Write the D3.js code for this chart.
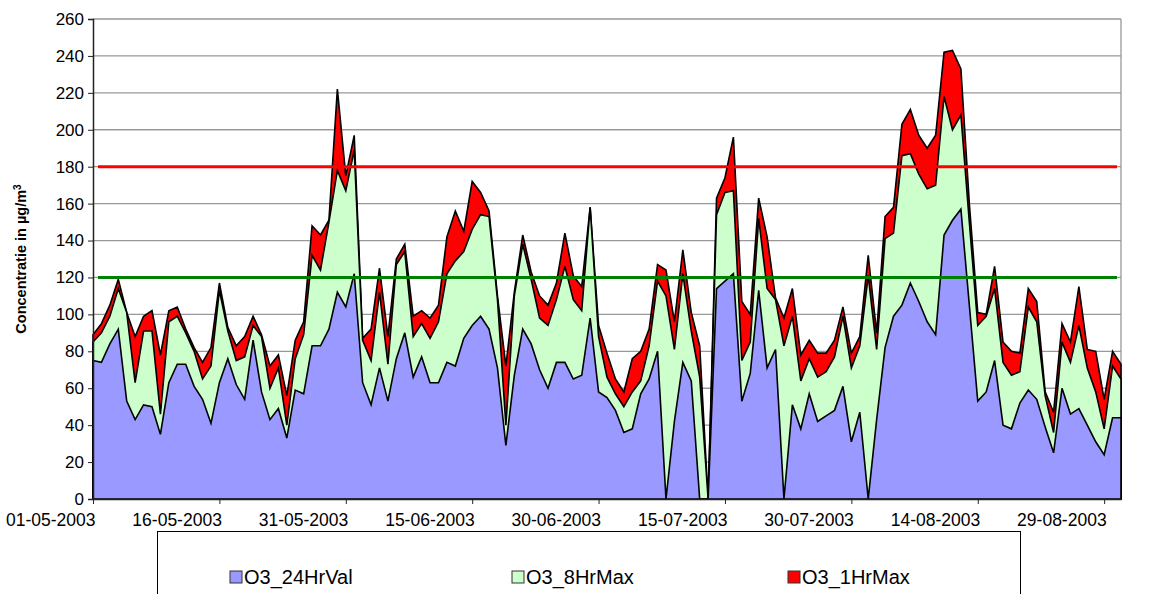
<!DOCTYPE html>
<html>
  <head>
    <meta http-equiv="Content-Type" content="text/html; charset=UTF-8">
    <script type="text/javascript" src="https://cdn.jsdelivr.net/npm/d3@7"></script>
    <style>
      body { margin: 0; background: #fff; }
      #chart { width: 1157px; height: 594px; overflow: hidden; }
    </style>
  </head>
  <body>
    <div id="chart"></div>
    <script>
// first day of the series, one value per day
var startDate = "01-05-2003";

var tickLabels = ["01-05-2003", "16-05-2003", "31-05-2003", "15-06-2003", "30-06-2003",
                  "15-07-2003", "30-07-2003", "14-08-2003", "29-08-2003"];

var yTicks = [0, 20, 40, 60, 80, 100, 120, 140, 160, 180, 200, 220, 240, 260];

var O3_24HrVal = [75, 74, 84, 92, 53, 43, 51, 50, 35, 63,
                  73, 73, 61, 54, 41, 63, 76, 62, 54, 86,
                  58, 43, 49, 33, 59, 57, 83, 83, 92, 112,
                  104, 122, 63, 51, 71, 53, 76, 90, 66, 77,
                  63, 63, 74, 72, 87, 94, 99, 92, 71, 29,
                  67, 92, 84, 70, 60, 74, 74, 65, 67, 98,
                  58, 55, 48, 36, 38, 57, 65, 80, 0, 42,
                  74, 64, 0, 0, 114, 118, 122, 53, 68, 113,
                  71, 81, 0, 51, 38, 57, 42, 45, 48, 61,
                  31, 47, 0, 43, 82, 99, 105, 117, 107, 96,
                  89, 143, 151, 157, 105, 53, 58, 75, 40, 38,
                  52, 59, 54, 39, 25, 60, 46, 49, 40, 31,
                  24, 44, 44];

var O3_8HrMax = [85, 90, 99, 114, 101, 63, 91, 91, 46, 96,
                 99, 90, 80, 65, 72, 113, 91, 75, 77, 94,
                 88, 60, 71, 40, 76, 89, 132, 124, 150, 178,
                 167, 189, 86, 75, 112, 73, 127, 134, 88, 95,
                 87, 96, 122, 129, 134, 146, 154, 153, 108, 40,
                 110, 138, 119, 98, 94, 108, 126, 108, 102, 158,
                 88, 66, 57, 50, 58, 64, 83, 118, 110, 81,
                 122, 91, 66, 0, 154, 166, 167, 75, 85, 152,
                 114, 108, 83, 99, 64, 76, 66, 69, 77, 99,
                 71, 83, 121, 81, 141, 144, 186, 187, 176, 168,
                 170, 218, 200, 208, 150, 94, 99, 114, 74, 67,
                 69, 104, 96, 56, 36, 85, 74, 94, 71, 58,
                 38, 72, 65];

var O3_1HrMax = [89, 95, 105, 119, 101, 88, 99, 102, 78, 102,
                 104, 92, 82, 74, 82, 117, 93, 83, 88, 99,
                 89, 72, 78, 56, 86, 96, 148, 143, 151, 222,
                 175, 197, 87, 92, 125, 88, 130, 138, 99, 102,
                 98, 105, 142, 156, 145, 172, 166, 156, 110, 72,
                 112, 143, 123, 110, 105, 117, 144, 121, 115, 158,
                 94, 79, 65, 58, 76, 80, 92, 127, 124, 96,
                 135, 101, 83, 0, 163, 174, 196, 107, 100, 163,
                 142, 109, 98, 114, 78, 86, 79, 79, 86, 104,
                 79, 88, 132, 90, 153, 158, 203, 211, 197, 190,
                 197, 242, 243, 233, 160, 101, 100, 126, 85, 80,
                 79, 114, 107, 58, 47, 95, 85, 115, 81, 80,
                 54, 80, 73];

// limit values drawn as flat lines
var limits = [{value: 180, color: "#ff0000"}, {value: 120, color: "#008000"}];

var seriesNames = ["O3_24HrVal", "O3_8HrMax", "O3_1HrMax"];
var seriesColors = ["#9999ff", "#ccffcc", "#ff0000"];

var width = 1157, height = 594;
var margin = {top: 19, left: 93, right: 36, bottom: 95};
var w = width - margin.left - margin.right;
var h = height - margin.top - margin.bottom;

var parse = d3.timeParse("%d-%m-%Y");
var first = parse(startDate);
var dates = O3_24HrVal.map(function (d, i) { return d3.timeDay.offset(first, i); });

var x = d3.scaleTime()
    .domain([dates[0], dates[dates.length - 1]])
    .range([margin.left, margin.left + w]);
var y = d3.scaleLinear()
    .domain([0, 260])
    .range([margin.top + h, margin.top]);

var svg = d3.select("#chart").append("svg")
    .attr("width", width)
    .attr("height", height)
    .style("font-family", "Arial, 'Liberation Sans', sans-serif");

// grid lines
svg.append("g").selectAll("line")
    .data(yTicks.slice(1))
  .enter().append("line")
    .attr("x1", margin.left)
    .attr("x2", margin.left + w)
    .attr("y1", function (d) { return y(d); })
    .attr("y2", function (d) { return y(d); })
    .attr("stroke", "#999")
    .attr("stroke-width", 1.3);

svg.append("line")
    .attr("x1", margin.left + w).attr("x2", margin.left + w)
    .attr("y1", margin.top).attr("y2", margin.top + h)
    .attr("stroke", "#999")
    .attr("stroke-width", 1.3);

// areas, largest first so the smaller ones sit on top
var areaOf = function (values) {
  return d3.area()
    .x(function (d, i) { return x(dates[i]); })
    .y0(y(0))
    .y1(function (d) { return y(d); })(values);
};

[O3_1HrMax, O3_8HrMax, O3_24HrVal].forEach(function (values, k) {
  svg.append("path")
    .attr("d", areaOf(values))
    .attr("fill", seriesColors[2 - k])
    .attr("stroke", "#000")
    .attr("stroke-width", 1.6)
    .attr("stroke-linejoin", "miter");
});

// limit lines
svg.append("g").selectAll("line")
    .data(limits)
  .enter().append("line")
    .attr("x1", margin.left + 5)
    .attr("x2", margin.left + w - 4)
    .attr("y1", function (d) { return y(d.value); })
    .attr("y2", function (d) { return y(d.value); })
    .attr("stroke", function (d) { return d.color; })
    .attr("stroke-width", 3);

// y axis
var yAxis = svg.append("g")
    .attr("transform", "translate(" + margin.left + ",0)")
    .call(d3.axisLeft(y).tickValues(yTicks).tickSize(5).tickPadding(4));
yAxis.select(".domain").attr("stroke", "#222").attr("stroke-width", 1.5);
yAxis.selectAll(".tick line").attr("stroke", "#222");
yAxis.selectAll("text").attr("font-size", "17px").attr("fill", "#000").attr("font-family", "Arial, 'Liberation Sans', sans-serif");

// x axis
var xAxis = svg.append("g")
    .attr("transform", "translate(0," + (margin.top + h) + ")")
    .call(d3.axisBottom(x)
      .tickValues(tickLabels.map(parse))
      .tickFormat(d3.timeFormat("%d-%m-%Y"))
      .tickSize(5)
      .tickSizeOuter(0)
      .tickPadding(10));
xAxis.select(".domain").attr("stroke", "#222").attr("stroke-width", 1.5);
xAxis.selectAll(".tick line").attr("stroke", "#222");
xAxis.selectAll("text")
    .attr("font-size", "17.5px")
    .attr("fill", "#000")
    .attr("font-family", "Arial, 'Liberation Sans', sans-serif")
    .attr("text-anchor", "end")
    .attr("dx", "2px");

// y title
var yTitle = svg.append("text")
    .attr("transform", "translate(26," + (margin.top + h / 2) + ") rotate(-90)")
    .attr("text-anchor", "middle")
    .attr("font-size", "14.5px")
    .attr("font-weight", "bold");
yTitle.append("tspan").text("Concentratie in µg/m");
yTitle.append("tspan").attr("dy", "-5").attr("font-size", "10px").text("3");

// legend
var legend = svg.append("g");
legend.append("rect")
    .attr("x", 157.5).attr("y", 531.5)
    .attr("width", 863).attr("height", 80)
    .attr("fill", "#fff")
    .attr("stroke", "#000");

var legendX = [230, 512, 788];
var item = legend.selectAll(".item")
    .data(seriesNames)
  .enter().append("g")
    .attr("class", "item")
    .attr("transform", function (d, i) { return "translate(" + legendX[i] + ",571)"; });
item.append("rect")
    .attr("width", 12).attr("height", 12)
    .attr("fill", function (d, i) { return seriesColors[i]; })
    .attr("stroke", "#333");
item.append("text")
    .attr("x", 14).attr("y", 13)
    .attr("font-size", "20px")
    .text(function (d) { return d; });
    </script>
</body></html>
